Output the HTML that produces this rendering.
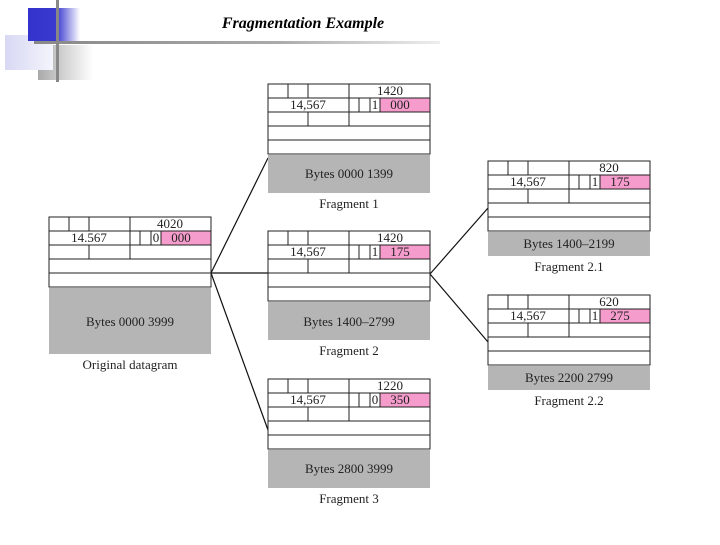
<!DOCTYPE html>
<html><head><meta charset="utf-8"><style>
body{margin:0;background:#fff;width:720px;height:540px;overflow:hidden}
svg text{font-family:"Liberation Serif",serif;fill:#222}
</style></head><body>
<svg width="720" height="540" viewBox="0 0 720 540" xmlns="http://www.w3.org/2000/svg">
<defs>
<linearGradient id="bl" x1="0" x2="1"><stop offset="0" stop-color="#3333cc"/><stop offset="0.55" stop-color="#3a3ad0"/><stop offset="1" stop-color="#fff"/></linearGradient>
<linearGradient id="lv" x1="0" x2="1"><stop offset="0" stop-color="#d8d8f4"/><stop offset="1" stop-color="#f4f4fc"/></linearGradient>
<linearGradient id="gr" x1="0" x2="1"><stop offset="0" stop-color="#aaa"/><stop offset="1" stop-color="#fff"/></linearGradient>
<linearGradient id="hl" x1="0" x2="1"><stop offset="0" stop-color="#888"/><stop offset="0.6" stop-color="#aaa"/><stop offset="1" stop-color="#eee"/></linearGradient>
<symbol id="hdr" overflow="visible">
<rect x="112" y="14" width="50" height="14" fill="#f59ccc"/>
<rect x="0" y="0" width="162" height="70" fill="none" stroke="#222" stroke-width="1"/>
<path d="M0 14H162M0 28H162M0 42H162M0 56H162M20 0V14M40 0V14M81 0V42M91 14V28M102 14V28M112 14V28M40 28V42" stroke="#222" stroke-width="1" fill="none"/>
</symbol>
</defs>
<!-- decoration -->
<rect x="38" y="45" width="55" height="35" fill="url(#gr)"/>
<rect x="5" y="35" width="48" height="35" fill="url(#lv)"/>
<rect x="28" y="8" width="52" height="33" fill="url(#bl)"/>
<rect x="34" y="41" width="406" height="3" fill="url(#hl)"/>
<rect x="56" y="0" width="3" height="82" fill="#888"/>
<text x="303" y="28" text-anchor="middle" font-size="16" font-style="italic" font-weight="bold" style="fill:#000">Fragmentation Example</text>
<!-- connectors -->
<path d="M211 273L268 158M211 273H268M211 273L268 430M430 274L488 208M430 274L488 342" stroke="#111" stroke-width="1.2" fill="none"/>
<!-- original -->
<use href="#hdr" x="49" y="217"/>
<rect x="49" y="288" width="162" height="66" fill="#b5b5b5"/>
<text x="170" y="228" text-anchor="middle" font-size="13">4020</text>
<text x="89" y="242" text-anchor="middle" font-size="13">14.567</text>
<text x="156" y="242" text-anchor="middle" font-size="13">0</text>
<text x="181" y="242" text-anchor="middle" font-size="13">000</text>
<text x="130" y="326" text-anchor="middle" font-size="13">Bytes 0000  3999</text>
<text x="130" y="369" text-anchor="middle" font-size="13">Original datagram</text>
<!-- fragment 1 -->
<use href="#hdr" x="268" y="84"/>
<rect x="268" y="155" width="162" height="38" fill="#b5b5b5"/>
<text x="390" y="95" text-anchor="middle" font-size="13">1420</text>
<text x="308" y="109" text-anchor="middle" font-size="13">14,567</text>
<text x="375" y="109" text-anchor="middle" font-size="13">1</text>
<text x="400" y="109" text-anchor="middle" font-size="13">000</text>
<text x="349" y="178" text-anchor="middle" font-size="13">Bytes 0000  1399</text>
<text x="349" y="208" text-anchor="middle" font-size="13">Fragment 1</text>
<!-- fragment 2 -->
<use href="#hdr" x="268" y="231"/>
<rect x="268" y="302" width="162" height="38" fill="#b5b5b5"/>
<text x="390" y="242" text-anchor="middle" font-size="13">1420</text>
<text x="308" y="256" text-anchor="middle" font-size="13">14,567</text>
<text x="375" y="256" text-anchor="middle" font-size="13">1</text>
<text x="400" y="256" text-anchor="middle" font-size="13">175</text>
<text x="349" y="326" text-anchor="middle" font-size="13">Bytes 1400–2799</text>
<text x="349" y="355" text-anchor="middle" font-size="13">Fragment 2</text>
<!-- fragment 3 -->
<use href="#hdr" x="268" y="379"/>
<rect x="268" y="450" width="162" height="38" fill="#b5b5b5"/>
<text x="390" y="390" text-anchor="middle" font-size="13">1220</text>
<text x="308" y="404" text-anchor="middle" font-size="13">14,567</text>
<text x="375" y="404" text-anchor="middle" font-size="13">0</text>
<text x="400" y="404" text-anchor="middle" font-size="13">350</text>
<text x="349" y="473" text-anchor="middle" font-size="13">Bytes 2800  3999</text>
<text x="349" y="503" text-anchor="middle" font-size="13">Fragment 3</text>
<!-- fragment 2.1 -->
<use href="#hdr" x="488" y="161"/>
<rect x="488" y="232" width="162" height="24" fill="#b5b5b5"/>
<text x="609" y="172" text-anchor="middle" font-size="13">820</text>
<text x="528" y="186" text-anchor="middle" font-size="13">14,567</text>
<text x="595" y="186" text-anchor="middle" font-size="13">1</text>
<text x="620" y="186" text-anchor="middle" font-size="13">175</text>
<text x="569" y="248" text-anchor="middle" font-size="13">Bytes 1400–2199</text>
<text x="569" y="271" text-anchor="middle" font-size="13">Fragment 2.1</text>
<!-- fragment 2.2 -->
<use href="#hdr" x="488" y="295"/>
<rect x="488" y="366" width="162" height="24" fill="#b5b5b5"/>
<text x="609" y="306" text-anchor="middle" font-size="13">620</text>
<text x="528" y="320" text-anchor="middle" font-size="13">14,567</text>
<text x="595" y="320" text-anchor="middle" font-size="13">1</text>
<text x="620" y="320" text-anchor="middle" font-size="13">275</text>
<text x="569" y="382" text-anchor="middle" font-size="13">Bytes 2200  2799</text>
<text x="569" y="405" text-anchor="middle" font-size="13">Fragment 2.2</text>
</svg>
</body></html>
